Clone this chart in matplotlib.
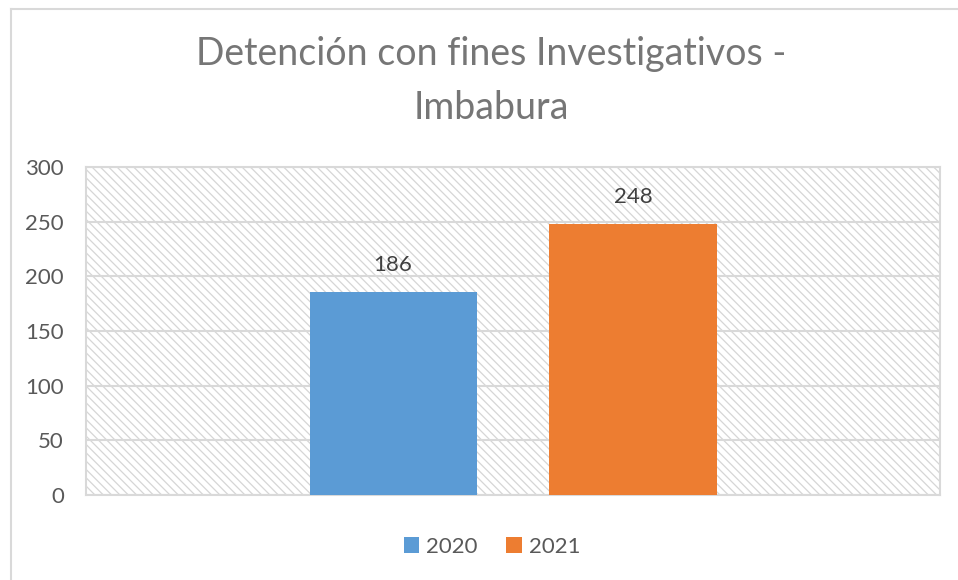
import matplotlib.pyplot as plt
from matplotlib.patches import Rectangle
from matplotlib.lines import Line2D

series = ["2020", "2021"]
values = [186, 248]
colors = ["#5b9bd5", "#ed7d31"]
yticks = [0, 50, 100, 150, 200, 250, 300]
title = "Detención con fines Investigativos -\nImbabura"

plt.rcParams["font.family"] = ["Lato", "DejaVu Sans"]
plt.rcParams["hatch.linewidth"] = 0.9

fig = plt.figure(figsize=(9.58, 5.8), dpi=100)
ax = fig.add_axes([0.0898, 0.1466, 0.8914, 0.5654])

# outer chart frame (cropped at right and bottom)
fig.add_artist(Line2D([10.5 / 958, 10.5 / 958], [0, 1 - 9 / 580], color="#d9d9d9", lw=1.5))
fig.add_artist(Line2D([10.5 / 958, 1], [1 - 9 / 580, 1 - 9 / 580], color="#d9d9d9", lw=1.5))

# hatched plot area
ax.add_patch(Rectangle((0, 0), 1, 1, transform=ax.transAxes, facecolor="white",
                       edgecolor="#d6d6d6", hatch="\\\\\\\\", lw=0, zorder=0))

width = 0.1956
offset = 0.1405
for i, (s, v, c) in enumerate(zip(series, values, colors)):
    x = -offset if i == 0 else offset
    bars = ax.bar([x], [v], width=width, color=c, label=s, zorder=3)
    ax.bar_label(bars, padding=12, fontsize=16, color="#404040")

ax.set_xlim(-0.5, 0.5)
ax.set_ylim(0, 300)
ax.set_yticks(yticks)
ax.set_xticks([])
ax.yaxis.grid(True, color="#d9d9d9", lw=1.5, zorder=1)
ax.set_axisbelow(True)
ax.tick_params(axis="y", length=0, pad=16, labelsize=16, labelcolor="#595959")
for sp in ax.spines.values():
    sp.set_color("#d9d9d9")
    sp.set_linewidth(1.5)

fig.text(0.5125, 1 - 81 / 580, title, ha="center", va="center", fontsize=27,
         color="#767676", linespacing=1.62)

ax.legend(loc="center", bbox_to_anchor=(492 / 958, 1 - 547 / 580), bbox_transform=fig.transFigure,
          ncol=2, frameon=False, fontsize=16, labelcolor="#595959", handlelength=0.7,
          handleheight=0.7, handletextpad=0.3, columnspacing=1.3)

plt.savefig("out.png", dpi=100)
plt.close()
